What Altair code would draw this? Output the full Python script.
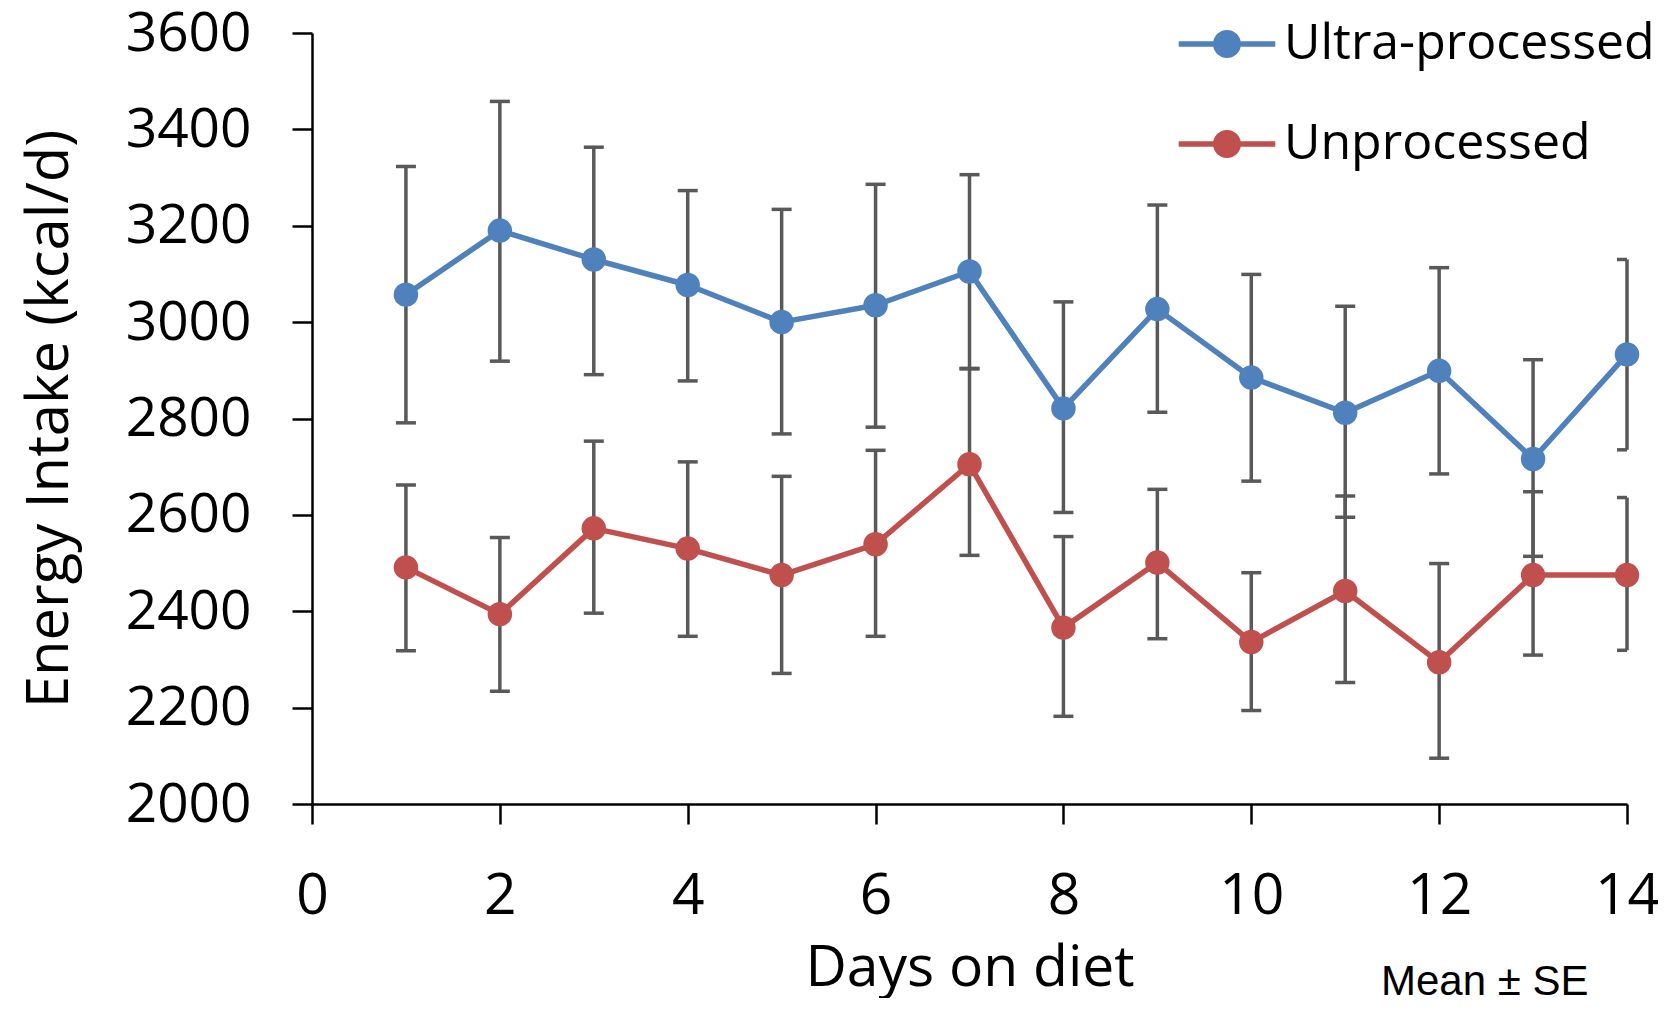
import altair as alt
import pandas as pd

days = list(range(1, 15))
series_names = ["Ultra-processed", "Unprocessed"]
series_colors = ["#4F81BD", "#C0504D"]

upf_mean = [3057, 3190, 3130, 3077, 3000, 3035, 3105, 2821, 3027, 2885, 2812, 2899, 2716, 2933]
upf_hi = [3323, 3458, 3363, 3273, 3234, 3286, 3306, 3042, 3243, 3099, 3033, 3113, 2922, 3130]
upf_lo = [2791, 2919, 2891, 2878, 2768, 2782, 2904, 2605, 2813, 2670, 2595, 2685, 2514, 2735]

unp_mean = [2491, 2394, 2572, 2530, 2475, 2539, 2705, 2366, 2501, 2336, 2442, 2294, 2475, 2475]
unp_hi = [2662, 2553, 2753, 2710, 2680, 2734, 2903, 2555, 2653, 2480, 2639, 2499, 2648, 2636]
unp_lo = [2318, 2234, 2396, 2348, 2271, 2348, 2516, 2182, 2343, 2194, 2252, 2095, 2309, 2319]

x_ticks = [0, 2, 4, 6, 8, 10, 12, 14]
y_ticks = [2000, 2200, 2400, 2600, 2800, 3000, 3200, 3400, 3600]
note_text = ["Mean \u00b1 SE"]

rows = []
for name, m, lo, hi in [(series_names[0], upf_mean, upf_lo, upf_hi),
                        (series_names[1], unp_mean, unp_lo, unp_hi)]:
    for d, a, b, c in zip(days, m, lo, hi):
        rows.append({"day": d, "series": name, "mean": a, "lo": b, "hi": c})
df = pd.DataFrame(rows)

FONT = "Open Sans"
W, H = 1315, 771

x_enc = alt.X(
    "day:Q",
    scale=alt.Scale(domain=[0, 14], nice=False, zero=False),
    axis=alt.Axis(
        values=x_ticks, format="d", title="Days on diet", grid=False,
        domainColor="black", domainWidth=2.5, tickColor="black", tickWidth=2.5, tickSize=20,
        labelFont=FONT, labelFontSize=57, labelColor="black", labelPadding=44,
        labelFlush=False, labelOverlap=False,
        titleFont=FONT, titleFontSize=57, titleFontWeight="normal", titleColor="black",
        titleBaseline="alphabetic", titleY=181, titleX=W / 2,
    ),
)
y_axis = alt.Axis(
    values=y_ticks, format="d", title="Energy Intake (kcal/d)", grid=False,
    domainColor="black", domainWidth=2.5, tickColor="black", tickWidth=2.5, tickSize=20,
    labelFont=FONT, labelFontSize=55, labelColor="black", labelPadding=41,
    labelFlush=False, labelOverlap=False,
    titleFont=FONT, titleFontSize=58, titleFontWeight="normal", titleColor="black",
    titleBaseline="alphabetic", titleX=-245, titleY=H / 2, titleAngle=270,
)
y_scale = alt.Scale(domain=[2000, 3600], nice=False, zero=False)

k = 0.5523
legend_path = (
    "M-3.45,-0.2 L-0.95,-0.2 L-0.95,0.2 L-3.45,0.2 Z "
    "M0.95,-0.2 L3.45,-0.2 L3.45,0.2 L0.95,0.2 Z "
    f"M1,0 C1,{k} {k},1 0,1 C-{k},1 -1,{k} -1,0 C-1,-{k} -{k},-1 0,-1 C{k},-1 1,-{k} 1,0 Z"
)

legend = alt.Legend(
    title=None, orient="none", legendX=890, legendY=-14,
    symbolType=legend_path, symbolSize=784, symbolStrokeWidth=0, symbolOpacity=1,
    labelFont=FONT, labelFontSize=50, labelColor="black", labelOffset=32,
    labelLimit=1000, rowPadding=50,
)

base = alt.Chart(df)

err = base.mark_rule(color="#595959", strokeWidth=3.5).encode(
    x=x_enc, y=alt.Y("lo:Q", scale=y_scale, axis=y_axis), y2="hi:Q"
)
cap_hi = base.mark_tick(color="#595959", thickness=3.5, size=20, orient="horizontal",
                        clip=True, opacity=1).encode(
    x="day:Q", y=alt.Y("hi:Q", scale=y_scale)
)
cap_lo = base.mark_tick(color="#595959", thickness=3.5, size=20, orient="horizontal",
                        clip=True, opacity=1).encode(
    x="day:Q", y=alt.Y("lo:Q", scale=y_scale)
)
lines = base.mark_line(strokeWidth=5.5, strokeJoin="round", strokeCap="round").encode(
    x="day:Q", y=alt.Y("mean:Q", scale=y_scale),
    color=alt.Color("series:N", scale=alt.Scale(domain=series_names, range=series_colors), legend=legend),
)
points = base.mark_point(filled=True, size=600, opacity=1).encode(
    x="day:Q", y=alt.Y("mean:Q", scale=y_scale),
    color=alt.Color("series:N", scale=alt.Scale(domain=series_names, range=series_colors), legend=legend),
)
note = alt.Chart(pd.DataFrame({"t": note_text})).mark_text(
    align="left", baseline="alphabetic", font="Liberation Sans", fontSize=42, color="black"
).encode(text="t:N", x=alt.value(1069), y=alt.value(962))

chart = alt.layer(err, cap_hi, cap_lo, lines, points, note).properties(
    width=W, height=H,
    background="white",
    autosize=alt.AutoSizeParams(type="none"),
    padding={"left": 304, "top": 25, "right": 31, "bottom": 194},
).configure_view(stroke=None)

chart.save("out.html", embed_options={"renderer": "svg", "actions": False})
